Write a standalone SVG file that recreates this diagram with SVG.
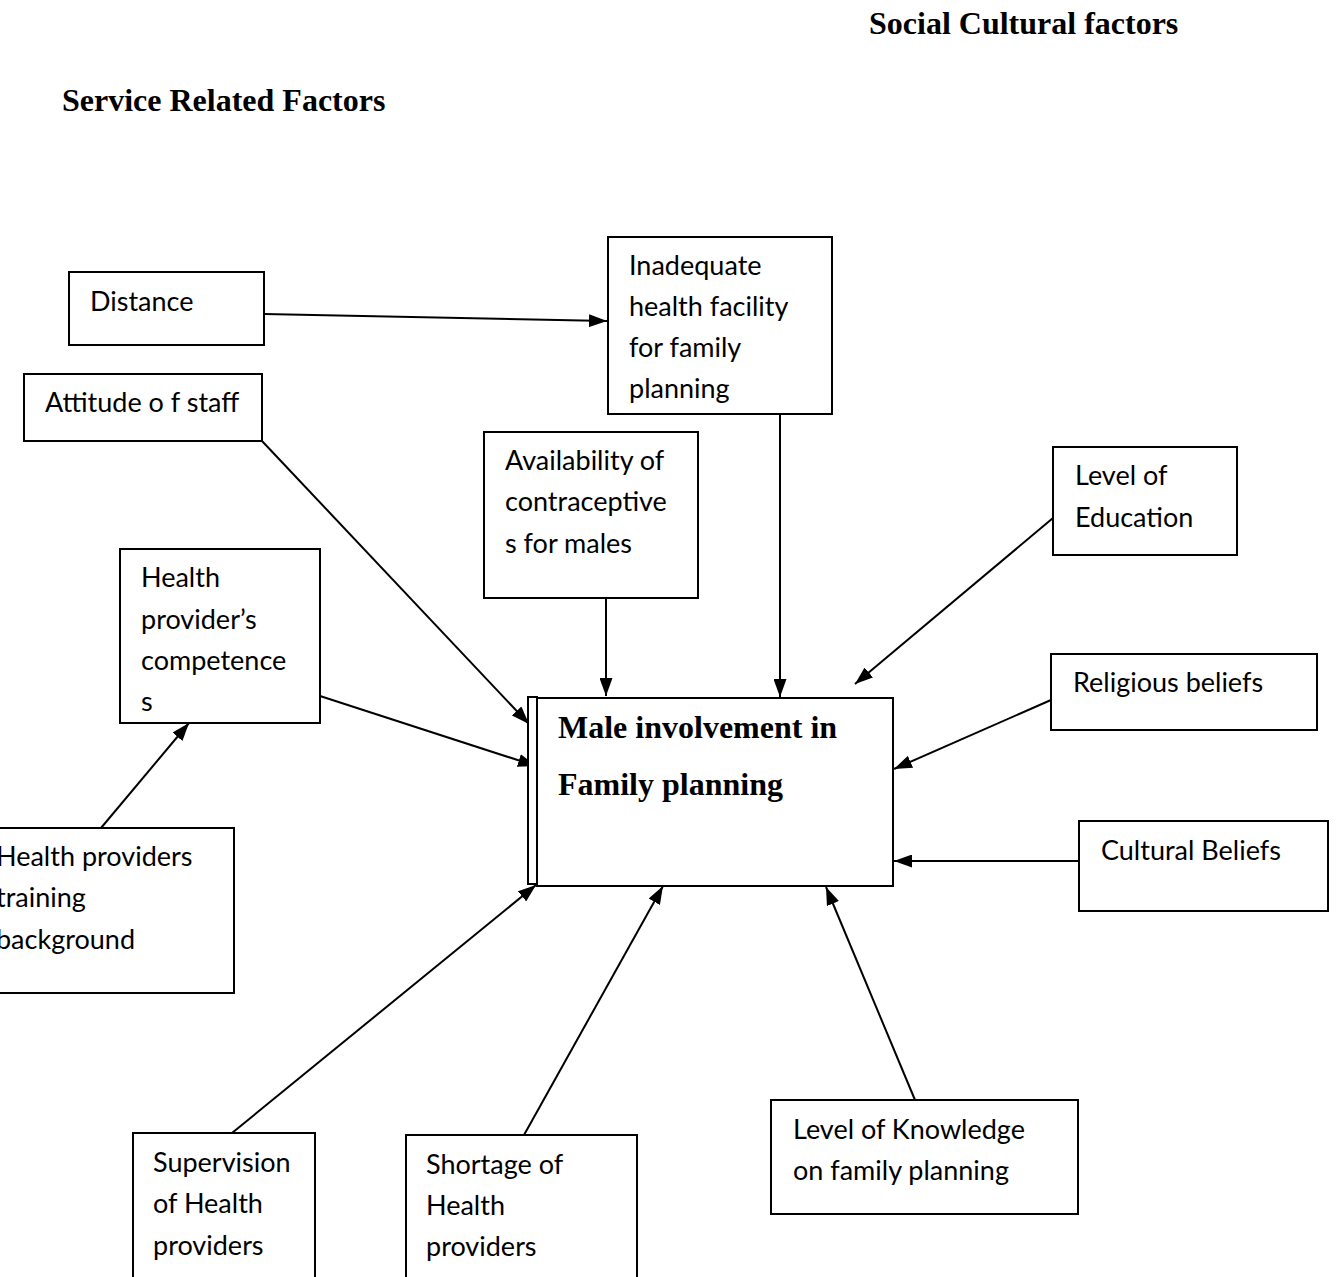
<svg xmlns="http://www.w3.org/2000/svg" width="1338" height="1277" viewBox="0 0 1338 1277">
<style>
.box{fill:#fff;stroke:#000;stroke-width:2}
.t{font-family:Lato,"Open Sans","Liberation Sans",sans-serif;font-size:27px;fill:#000}
.h{font-family:"Liberation Serif","Times New Roman",serif;font-weight:bold;font-size:32px;fill:#000}
.c{stroke:#000;stroke-width:2;fill:none;marker-end:url(#arr)}
</style>
<defs>
<marker id="arr" viewBox="0 0 18 13" refX="18" refY="6.5" markerWidth="18" markerHeight="13" markerUnits="userSpaceOnUse" orient="auto">
<path d="M0,0 L18,6.5 L0,13 Z" fill="#000"/>
</marker>
</defs>
<rect width="1338" height="1277" fill="#fff"/>
<text class="h" x="869" y="34">Social Cultural factors</text>
<text class="h" x="62" y="111">Service Related Factors</text>

<g id="connectors">
<line class="c" x1="264" y1="314" x2="607" y2="321"/>
<line class="c" x1="780" y1="414" x2="780" y2="697"/>
<line class="c" x1="262" y1="441" x2="529" y2="724"/>
<line class="c" x1="606" y1="598" x2="606" y2="696"/>
<line class="c" x1="1053" y1="518" x2="855" y2="684"/>
<line class="c" x1="320" y1="696" x2="536" y2="766"/>
<line class="c" x1="1051" y1="700" x2="894" y2="769"/>
<line class="c" x1="1079" y1="861" x2="894" y2="861"/>
<line class="c" x1="101" y1="828" x2="189" y2="723"/>
<line class="c" x1="232" y1="1133" x2="536" y2="885"/>
<line class="c" x1="524" y1="1135" x2="663" y2="886"/>
<line class="c" x1="915" y1="1100" x2="826" y2="887"/>
</g>

<g id="main">
<rect class="box" x="528" y="697" width="9" height="187" stroke-width="2.5"/>
<rect class="box" x="537" y="698" width="356" height="188" stroke-width="2.5"/>
<text class="h" x="558" y="738">Male involvement in</text>
<text class="h" x="558" y="795">Family planning</text>
</g>

<g id="distance">
<rect class="box" x="69" y="272" width="195" height="73"/>
<text class="t" x="90" y="311">Distance</text>
</g>

<g id="inadequate">
<rect class="box" x="608" y="237" width="224" height="177"/>
<text class="t" x="629" y="275">Inadequate</text>
<text class="t" x="629" y="316">health facility</text>
<text class="t" x="629" y="357">for family</text>
<text class="t" x="629" y="398">planning</text>
</g>

<g id="attitude">
<rect class="box" x="24" y="374" width="238" height="67"/>
<text class="t" x="45" y="412">Attitude o f staff</text>
</g>

<g id="availability">
<rect class="box" x="484" y="432" width="214" height="166"/>
<text class="t" x="505" y="470">Availability of</text>
<text class="t" x="505" y="511">contraceptive</text>
<text class="t" x="505" y="553">s for males</text>
</g>

<g id="education">
<rect class="box" x="1053" y="447" width="184" height="108"/>
<text class="t" x="1075" y="485">Level of</text>
<text class="t" x="1075" y="527">Education</text>
</g>

<g id="competence">
<rect class="box" x="120" y="549" width="200" height="174"/>
<text class="t" x="141" y="587">Health</text>
<text class="t" x="141" y="629">provider’s</text>
<text class="t" x="141" y="670">competence</text>
<text class="t" x="141" y="711">s</text>
</g>

<g id="religious">
<rect class="box" x="1051" y="654" width="266" height="76"/>
<text class="t" x="1073" y="692">Religious beliefs</text>
</g>

<g id="cultural">
<rect class="box" x="1079" y="821" width="249" height="90"/>
<text class="t" x="1101" y="860">Cultural Beliefs</text>
</g>

<g id="training">
<rect class="box" x="-10" y="828" width="244" height="165"/>
<text class="t" x="-4" y="866">Health providers</text>
<text class="t" x="-4" y="907">training</text>
<text class="t" x="-4" y="949">background</text>
</g>

<g id="supervision">
<rect class="box" x="133" y="1133" width="182" height="160"/>
<text class="t" x="153" y="1172">Supervision</text>
<text class="t" x="153" y="1213">of Health</text>
<text class="t" x="153" y="1255">providers</text>
</g>

<g id="shortage">
<rect class="box" x="406" y="1135" width="231" height="160"/>
<text class="t" x="426" y="1174">Shortage of</text>
<text class="t" x="426" y="1215">Health</text>
<text class="t" x="426" y="1256">providers</text>
</g>

<g id="knowledge">
<rect class="box" x="771" y="1100" width="307" height="114"/>
<text class="t" x="793" y="1139">Level of Knowledge</text>
<text class="t" x="793" y="1180">on family planning</text>
</g>
</svg>
